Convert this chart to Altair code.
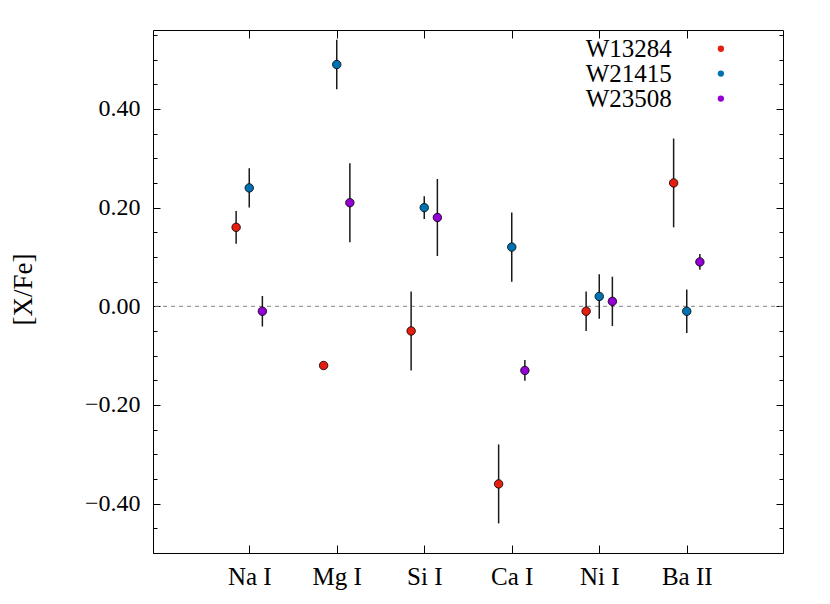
import altair as alt
import pandas as pd

# ---- data ----
elements = ["Na I", "Mg I", "Si I", "Ca I", "Ni I", "Ba II"]
stars = ["W13284", "W21415", "W23508"]
colors = ["#e51e10", "#0072b2", "#9400d3"]

w13284_val = [0.16, -0.12, -0.05, -0.36, -0.01, 0.25]
w13284_err = [0.033, 0.0, 0.08, 0.08, 0.04, 0.09]
w21415_val = [0.24, 0.49, 0.20, 0.12, 0.02, -0.01]
w21415_err = [0.04, 0.05, 0.023, 0.07, 0.045, 0.044]
w23508_val = [-0.01, 0.21, 0.18, -0.13, 0.01, 0.09]
w23508_err = [0.031, 0.08, 0.078, 0.021, 0.05, 0.016]

# ---- layout / style constants ----
SERIF = "Liberation Serif"
offsets = {"W13284": -0.15, "W21415": 0.0, "W23508": 0.15}
legend_y = [0.522, 0.4716, 0.421]
legend_text_x = 5.83
legend_dot_x = 6.39

values = {"W13284": (w13284_val, w13284_err),
          "W21415": (w21415_val, w21415_err),
          "W23508": (w23508_val, w23508_err)}

rows = []
for s in stars:
    vals, errs = values[s]
    for i, el in enumerate(elements):
        rows.append({"star": s, "element": el, "pos": i + 1 + offsets[s],
                     "val": vals[i], "lo": vals[i] - errs[i], "hi": vals[i] + errs[i],
                     "err": errs[i]})
df = pd.DataFrame(rows)
df_err = df[df["err"] > 0]

leg = pd.DataFrame({"star": stars, "ly": legend_y,
                    "tx": [legend_text_x] * 3, "dx": [legend_dot_x] * 3})
zero = pd.DataFrame({"z": [0.0]})

xscale = alt.Scale(domain=[-0.1, 7.1], nice=False, zero=False)
yscale = alt.Scale(domain=[-0.5, 0.56], nice=False, zero=False)
cscale = alt.Scale(domain=stars, range=colors)

major_y = [-0.4, -0.2, 0.0, 0.2, 0.4]
minor_y = [round(-0.5 + 0.05 * k, 2) for k in range(22)]
xticks = list(range(1, len(elements) + 1))
label_expr = "[" + ",".join(["''"] + ["'" + e + "'" for e in elements]) + "][datum.value]"

common = dict(domain=False, grid=False, tickColor="black", tickWidth=1)

y_left_major = alt.Axis(orient="left", values=major_y, format=".2f", tickSize=7, offset=-7,
                        labelPadding=13, labelFontSize=24, labelFont=SERIF, labelColor="black",
                        title="[X/Fe]", titleFont=SERIF, titleFontSize=27, titleFontWeight="normal",
                        titleColor="black", titleX=-137, titleY=259, titleAngle=270,
                        titleAlign="center", titleBaseline="middle", **common)
y_left_minor = alt.Axis(orient="left", values=minor_y, tickSize=4, offset=-4, labels=False,
                        title="", **common)
y_right_major = alt.Axis(orient="right", values=major_y, tickSize=7, offset=-7, labels=False,
                         title="", **common)
y_right_minor = alt.Axis(orient="right", values=minor_y, tickSize=4, offset=-4, labels=False,
                         title="", **common)
x_bottom = alt.Axis(orient="bottom", values=xticks, labelExpr=label_expr, tickSize=8, offset=-8,
                    labelPadding=11, labelFontSize=25, labelFont=SERIF, labelColor="black",
                    title="", **common)
x_top = alt.Axis(orient="top", values=xticks, tickSize=8, offset=-8, labels=False, title="", **common)

errbars = alt.Chart(df_err).mark_rule(color="#1a1a1a", strokeWidth=1.5).encode(
    x=alt.X("pos:Q", scale=xscale, axis=x_bottom),
    y=alt.Y("lo:Q", scale=yscale, axis=y_left_major),
    y2="hi:Q",
)

zline = alt.Chart(zero).mark_rule(color="#808080", strokeWidth=1, strokeDash=[4, 4]).encode(
    y=alt.Y("z:Q", scale=yscale, axis=y_right_major),
)

points = alt.Chart(df).mark_circle(size=72, opacity=1, stroke="black", strokeWidth=0.8).encode(
    x=alt.X("pos:Q", scale=xscale, axis=x_top),
    y=alt.Y("val:Q", scale=yscale, axis=y_left_minor),
    color=alt.Color("star:N", scale=cscale, legend=None),
)

leg_dots = alt.Chart(leg).mark_circle(size=40, opacity=1).encode(
    x=alt.X("dx:Q", scale=xscale, axis=None),
    y=alt.Y("ly:Q", scale=yscale, axis=y_right_minor),
    color=alt.Color("star:N", scale=cscale, legend=None),
)

leg_text = alt.Chart(leg).mark_text(align="right", baseline="middle", font=SERIF,
                                    fontSize=25, color="black").encode(
    x=alt.X("tx:Q", scale=xscale, axis=None),
    y=alt.Y("ly:Q", scale=yscale, axis=None),
    text="star:N",
)

chart = alt.layer(zline, errbars, points, leg_dots, leg_text).resolve_scale(
    x="shared", y="shared"
).resolve_axis(
    x="independent", y="independent"
).properties(
    width=630, height=523,
    autosize=alt.AutoSizeParams(type="none"),
    padding={"left": 145, "top": 22, "right": 39, "bottom": 43},
).configure_view(stroke="black", strokeWidth=1)

chart.save("out.html", embed_options={"renderer": "svg", "actions": False})
